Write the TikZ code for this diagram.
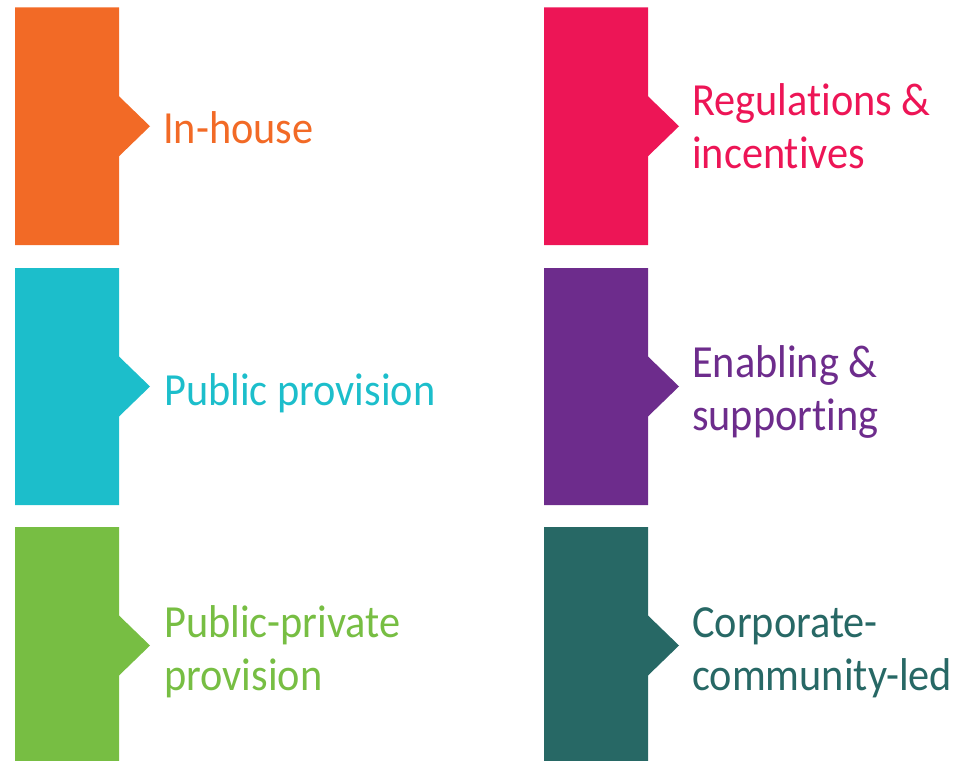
\documentclass[tikz,border=0pt]{standalone}
\usepackage{fontspec}
\setmainfont{Carlito}[FakeStretch=0.92, Ligatures={NoCommon,NoRare}]
\definecolor{cOrange}{HTML}{F26A26}
\definecolor{cPink}{HTML}{ED1556}
\definecolor{cCyan}{HTML}{1CBECB}
\definecolor{cPurple}{HTML}{6D2C8C}
\definecolor{cGreen}{HTML}{77BE43}
\definecolor{cTeal}{HTML}{276865}
% tall bar with a pointed tab on its right edge: left x, top y, bottom y, colour
\newcommand\tabbar[4]{%
  \fill[#4] (#1,#2) -- ({#1+104},#2) -- ({#1+104},{(#2+#3)/2-30})
    -- ({#1+135},{(#2+#3)/2}) -- ({#1+104},{(#2+#3)/2+30})
    -- ({#1+104},#3) -- (#1,#3) -- cycle;}
\begin{document}
\begin{tikzpicture}[x=1bp,y=-1bp,
  tagtext/.style={anchor=base west, inner sep=0pt, align=left,
    font=\fontsize{46bp}{53bp}\selectfont}]
\useasboundingbox (0,0) rectangle (953,761);
\clip (0,0) rectangle (953,761);

% left column
\tabbar{15}{7.5}{245}{cOrange}
\tabbar{15}{268}{505}{cCyan}
\tabbar{15}{527}{764}{cGreen}
% right column
\tabbar{544}{7.5}{245}{cPink}
\tabbar{544}{268}{505}{cPurple}
\tabbar{544}{527}{764}{cTeal}

\node[tagtext, text=cOrange] (inhouse) at (163,143) {In-house};
\node[tagtext, text=cCyan] (public) at (164,405) {Public provision};
\node[tagtext, text=cGreen] (ppp) at (164,637)
  {\vtop{\hbox{Public-private}\hbox{provision}}};

\node[tagtext, text=cPink] (regs) at (692,115)
  {\vtop{\hbox{Regulations \&}\hbox{incentives}}};
\node[tagtext, text=cPurple] (enable) at (692,377)
  {\vtop{\hbox{Enabling \&}\hbox{supporting}}};
\node[tagtext, text=cTeal] (corp) at (692,637)
  {\vtop{\hbox{Corporate-}\hbox{community-led}}};
\end{tikzpicture}
\end{document}
